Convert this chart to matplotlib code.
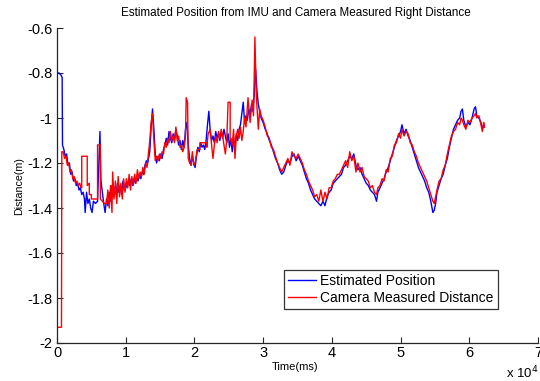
"""
Estimated position from IMU vs camera measured right distance
"""
import numpy as np
import matplotlib
matplotlib.use('Agg')
import matplotlib.pyplot as plt

plt.rcParams['font.family'] = ['Liberation Sans', 'DejaVu Sans']

# Estimated position (blue), time in ms
est_t = [0, 300, 600, 750, 800, 1000, 1200, 1400, 1600, 1800, 2000, 2200, 2400, 2600,
         2800, 3000, 3200, 3400, 3600, 3800, 4000, 4100, 4300, 4500, 4700, 4900, 5100,
         5300, 5600, 5900, 6100, 6250, 6400, 6600, 6800, 7000, 7200, 7400, 7600, 7800,
         8000, 8200, 8400, 8600, 8800, 9000, 9200, 9400, 9600, 9800, 10000, 10200, 10400,
         10600, 10800, 11000, 11200, 11400, 11600, 11800, 12000, 12200, 12400, 12600,
         12800, 13000, 13200, 13500, 13700, 13900, 14100, 14300, 14500, 14700, 14900,
         15100, 15300, 15500, 15700, 15900, 16100, 16300, 16500, 16700, 16900, 17100,
         17300, 17500, 17700, 17900, 18100, 18300, 18500, 18700, 18900, 19100, 19300,
         19500, 19700, 19900, 20100, 20300, 20500, 20700, 20900, 21100, 21300, 21500,
         21700, 21900, 22100, 22300, 22500, 22700, 22900, 23100, 23300, 23500, 23700,
         23900, 24100, 24300, 24500, 24700, 24900, 25100, 25300, 25500, 25700, 25900,
         26100, 26300, 26500, 26700, 26900, 27100, 27300, 27500, 27700, 27900, 28100,
         28300, 28500, 28700, 28900, 29100, 29300, 29500, 29700, 30000, 30300, 30600,
         30900, 31200, 31500, 31800, 32100, 32400, 32700, 33000, 33300, 33600, 33900,
         34200, 34500, 34800, 35100, 35400, 35700, 36000, 36300, 36600, 36900, 37200,
         37500, 37800, 38100, 38400, 38700, 39000, 39300, 39600, 39900, 40200, 40500,
         40800, 41100, 41400, 41700, 42000, 42300, 42600, 42900, 43200, 43500, 43800,
         44100, 44400, 44700, 45000, 45300, 45600, 45900, 46200, 46500, 46700, 47000,
         47300, 47600, 47900, 48200, 48500, 48800, 49100, 49400, 49700, 50000, 50200,
         50500, 50800, 51100, 51400, 51700, 52000, 52300, 52600, 52900, 53200, 53500,
         53800, 54100, 54400, 54700, 54900, 55100, 55300, 55600, 55900, 56200, 56500,
         56800, 57100, 57400, 57700, 58000, 58300, 58600, 58800, 59000, 59200, 59500,
         59800, 60100, 60400, 60700, 60900, 61100, 61400, 61700, 61900, 62100, 62200]
est_v = [-0.80, -0.80, -0.81, -0.82, -1.12, -1.14, -1.17, -1.16, -1.21, -1.20, -1.25,
         -1.24, -1.28, -1.27, -1.30, -1.29, -1.32, -1.31, -1.34, -1.33, -1.36, -1.42,
         -1.33, -1.38, -1.36, -1.40, -1.42, -1.37, -1.38, -1.37, -1.20, -1.06, -1.28,
         -1.33, -1.38, -1.42, -1.36, -1.39, -1.33, -1.37, -1.30, -1.35, -1.31, -1.34,
         -1.29, -1.33, -1.30, -1.34, -1.28, -1.32, -1.29, -1.31, -1.28, -1.30, -1.27,
         -1.30, -1.27, -1.29, -1.26, -1.28, -1.25, -1.27, -1.24, -1.25, -1.21, -1.19,
         -1.20, -1.15, -1.04, -0.96, -1.05, -1.16, -1.20, -1.17, -1.19, -1.16, -1.18,
         -1.14, -1.12, -1.09, -1.12, -1.06, -1.09, -1.11, -1.07, -1.10, -1.05, -1.08,
         -1.12, -1.10, -1.14, -1.10, -1.13, -1.05, -1.02, -1.12, -1.18, -1.21, -1.17,
         -1.20, -1.22, -1.17, -1.13, -1.15, -1.11, -1.13, -1.12, -1.14, -1.10, -1.03,
         -0.97, -1.06, -1.10, -1.08, -1.11, -1.06, -1.09, -1.07, -1.10, -1.06, -1.09,
         -1.05, -1.08, -1.11, -1.07, -1.13, -1.09, -1.15, -1.10, -1.12, -1.07, -1.10,
         -1.05, -1.03, -0.98, -0.93, -1.02, -0.99, -1.01, -0.96, -0.99, -0.94, -0.97,
         -0.90, -0.78, -0.88, -0.94, -0.97, -1.00, -1.02, -1.05, -1.07, -1.10, -1.12,
         -1.15, -1.18, -1.20, -1.23, -1.25, -1.24, -1.21, -1.19, -1.20, -1.17, -1.16,
         -1.19, -1.17, -1.19, -1.21, -1.24, -1.27, -1.29, -1.32, -1.34, -1.36, -1.37,
         -1.38, -1.39, -1.37, -1.39, -1.35, -1.33, -1.32, -1.29, -1.28, -1.27, -1.26,
         -1.25, -1.22, -1.21, -1.19, -1.17, -1.18, -1.16, -1.21, -1.23, -1.22, -1.25,
         -1.27, -1.29, -1.30, -1.32, -1.33, -1.34, -1.37, -1.33, -1.31, -1.29, -1.27,
         -1.24, -1.22, -1.19, -1.16, -1.13, -1.10, -1.08, -1.06, -1.03, -1.07, -1.05,
         -1.08, -1.10, -1.13, -1.16, -1.19, -1.22, -1.24, -1.26, -1.28, -1.31, -1.33,
         -1.37, -1.42, -1.41, -1.38, -1.33, -1.30, -1.27, -1.25, -1.21, -1.18, -1.13,
         -1.09, -1.05, -1.03, -1.01, -1.00, -0.97, -0.96, -1.01, -1.04, -1.02, -1.03,
         -1.00, -0.96, -0.95, -0.99, -1.00, -1.02, -1.05, -1.03, -1.04]

# Camera measured distance (red), time in ms
cam_t = [0, 650, 700, 900, 1100, 1300, 1500, 1700, 1900, 2100, 2300, 2500, 2700, 2900,
         3100, 3300, 3500, 3600, 3600, 4400, 4400, 4700, 4700, 5000, 5000, 5900, 5900,
         6300, 6300, 6600, 6900, 7200, 7400, 7600, 7800, 8000, 8100, 8300, 8500, 8700,
         8900, 9100, 9300, 9500, 9700, 9900, 10100, 10300, 10500, 10700, 10900, 11100,
         11300, 11500, 11700, 11900, 12100, 12300, 12500, 12700, 12900, 13100, 13300,
         13500, 13700, 13900, 14100, 14300, 14500, 14700, 14900, 15100, 15300, 15500,
         15700, 15900, 16100, 16300, 16500, 16700, 16900, 17100, 17300, 17500, 17700,
         17900, 18100, 18300, 18500, 18700, 18800, 19000, 19100, 19300, 19500, 19700,
         19900, 20100, 20400, 20800, 20800, 21800, 21800, 22000, 22300, 22500, 22700,
         22900, 23100, 23300, 23500, 23700, 23900, 24100, 24300, 24500, 24700, 24900,
         25200, 25200, 25500, 25700, 25900, 26100, 26300, 26500, 26700, 26900, 27100,
         27300, 27500, 27800, 28100, 28400, 28600, 28800, 29000, 29300, 29500, 29700,
         30000, 30300, 30600, 30900, 31200, 31500, 31800, 32100, 32400, 32700, 33000,
         33300, 33600, 33900, 34200, 34500, 34800, 35100, 35400, 35700, 36000, 36300,
         36600, 36900, 37200, 37500, 37800, 38100, 38400, 38700, 39000, 39300, 39600,
         39900, 40200, 40500, 40800, 41100, 41400, 41700, 42000, 42300, 42600, 42900,
         43200, 43500, 43800, 44100, 44400, 44700, 45000, 45300, 45600, 45900, 46200,
         46500, 46700, 47000, 47300, 47600, 47900, 48200, 48500, 48800, 49100, 49400,
         49700, 50000, 50200, 50500, 50800, 51100, 51400, 51700, 52000, 52300, 52600,
         52900, 53200, 53500, 53800, 54100, 54400, 54700, 54900, 55100, 55300, 55600,
         55900, 56200, 56500, 56800, 57100, 57400, 57700, 58000, 58300, 58600, 58800,
         59000, 59200, 59500, 59800, 60100, 60400, 60700, 60900, 61100, 61400, 61700,
         61900, 62100, 62200]
cam_v = [-1.93, -1.93, -1.15, -1.15, -1.18, -1.17, -1.21, -1.20, -1.24, -1.23, -1.27,
         -1.26, -1.29, -1.28, -1.30, -1.29, -1.31, -1.31, -1.17, -1.17, -1.30, -1.29,
         -1.34, -1.34, -1.36, -1.36, -1.12, -1.12, -1.36, -1.37, -1.38, -1.38, -1.32,
         -1.40, -1.30, -1.42, -1.24, -1.36, -1.28, -1.38, -1.26, -1.35, -1.29, -1.36,
         -1.27, -1.33, -1.27, -1.31, -1.25, -1.32, -1.26, -1.30, -1.25, -1.29, -1.23,
         -1.27, -1.24, -1.26, -1.22, -1.25, -1.20, -1.22, -1.16, -1.10, -1.02, -0.98,
         -1.10, -1.19, -1.17, -1.19, -1.16, -1.18, -1.15, -1.16, -1.11, -1.13, -1.09,
         -1.11, -1.06, -1.10, -1.08, -1.11, -1.04, -1.10, -1.08, -1.13, -1.12, -1.15,
         -1.13, -1.08, -0.91, -0.93, -1.18, -1.20, -1.21, -1.15, -1.21, -1.20, -1.14,
         -1.14, -1.11, -1.11, -1.13, -1.07, -1.05, -1.12, -1.18, -1.12, -1.08, -1.11,
         -1.06, -1.09, -1.05, -1.08, -1.12, -1.16, -1.10, -0.93, -0.93, -1.09, -1.12,
         -1.05, -1.18, -1.08, -1.05, -1.09, -1.04, -1.10, -1.06, -1.00, -1.04, -0.91,
         -1.02, -0.92, -0.99, -0.64, -0.90, -1.05, -0.96, -0.99, -1.01, -1.04, -1.08,
         -1.09, -1.13, -1.14, -1.17, -1.20, -1.22, -1.24, -1.22, -1.20, -1.18, -1.21,
         -1.15, -1.17, -1.18, -1.16, -1.18, -1.20, -1.23, -1.25, -1.28, -1.30, -1.32,
         -1.35, -1.34, -1.37, -1.32, -1.37, -1.33, -1.36, -1.31, -1.31, -1.28, -1.27,
         -1.25, -1.25, -1.23, -1.21, -1.19, -1.22, -1.15, -1.19, -1.17, -1.24, -1.20,
         -1.24, -1.22, -1.26, -1.27, -1.28, -1.31, -1.30, -1.33, -1.34, -1.31, -1.30,
         -1.27, -1.28, -1.23, -1.24, -1.18, -1.17, -1.12, -1.11, -1.07, -1.09, -1.05,
         -1.08, -1.06, -1.07, -1.11, -1.12, -1.15, -1.17, -1.20, -1.22, -1.24, -1.26,
         -1.28, -1.31, -1.34, -1.37, -1.38, -1.35, -1.32, -1.28, -1.27, -1.23, -1.21,
         -1.16, -1.12, -1.08, -1.06, -1.05, -1.02, -1.03, -1.00, -1.01, -1.03, -1.05,
         -1.01, -1.02, -1.00, -0.99, -0.98, -1.00, -0.99, -1.03, -1.06, -1.02, -1.04]

x_ticks = [0, 10000, 20000, 30000, 40000, 50000, 60000, 70000]
x_tick_labels = ['0', '1', '2', '3', '4', '5', '6', '7']
y_ticks = [-2, -1.8, -1.6, -1.4, -1.2, -1, -0.8, -0.6]
y_tick_labels = ['-2', '-1.8', '-1.6', '-1.4', '-1.2', '-1', '-0.8', '-0.6']

fig = plt.figure(figsize=(5.4, 3.81), dpi=100)
ax = fig.add_axes([57 / 540, 1 - 343 / 381, 481 / 540, 315 / 381])

ax.plot(est_t, est_v, color='#0000ff', linewidth=1.0, label='Estimated Position')
ax.plot(cam_t, cam_v, color='#ff0000', linewidth=1.0, label='Camera Measured Distance')

ax.set_xlim(0, 70000)
ax.set_ylim(-2, -0.6)
ax.set_xticks(x_ticks)
ax.set_xticklabels(x_tick_labels)
ax.set_yticks(y_ticks)
ax.set_yticklabels(y_tick_labels)
ax.tick_params(direction='in', length=4, width=0.8, labelsize=10.5, colors='#262626',
               labelcolor='black')
ax.tick_params(axis='x', pad=2)
ax.tick_params(axis='y', pad=3)

for side in ['top', 'right']:
    ax.spines[side].set_visible(False)
for side in ['left', 'bottom']:
    ax.spines[side].set_color('#262626')
    ax.spines[side].set_linewidth(0.9)

fig.text(296 / 540, 1 - 13 / 381, 'Estimated Position from IMU and Camera Measured Right Distance',
         ha='center', va='center', fontsize=8.4)
fig.text(19 / 540, 1 - 186 / 381, 'Distance(m)', ha='center', va='center',
         rotation=90, fontsize=7.7)
fig.text(295 / 540, 1 - 367 / 381, 'Time(ms)', ha='center', va='center', fontsize=8)
fig.text(506 / 540, 1 - 373 / 381, r'x 10$^{4}$', ha='left', va='center', fontsize=9.5)

leg = ax.legend(loc='lower left', bbox_to_anchor=(0.472, 0.108), borderaxespad=0,
                fontsize=10, frameon=True, fancybox=False, handlelength=2.0,
                handletextpad=0.3, borderpad=0.3, labelspacing=0.2)
leg.get_frame().set_edgecolor('black')
leg.get_frame().set_linewidth(0.9)

plt.savefig('out.png', dpi=100)
plt.close()
